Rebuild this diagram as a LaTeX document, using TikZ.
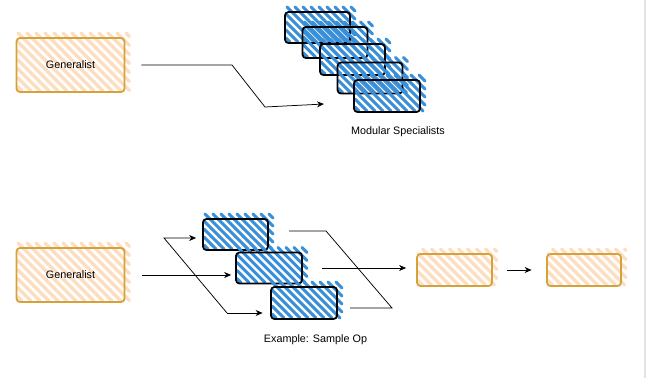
\documentclass[tikz,border=0pt]{standalone}
\usepackage{fontspec}
\setmainfont{Liberation Sans}
\usetikzlibrary{arrows.meta,calc}
\definecolor{orangeH}{HTML}{FDDEC0}
\definecolor{orangeB}{HTML}{D7A13A}
\definecolor{blueH}{HTML}{3A8FD9}
\definecolor{edgeG}{HTML}{E3E3E3}
\tikzset{
  orangebox/.style={draw=orangeB, line width=1.8pt, rounded corners=3.5pt, inner sep=0pt, font=\fontsize{10.8}{13}\selectfont},
  bluebox/.style={draw=black, line width=1.8pt, rounded corners=3.5pt, inner sep=0pt},
  conn/.style={draw=black, line width=0.75pt},
  arr/.style={conn, -{Stealth[length=7pt,width=6pt]}},
  lbl/.style={font=\fontsize{10.8}{13}\selectfont, inner sep=0pt}
}
% hatch: xl, yt, xr, yb, colour, stripe width, horizontal period
\newcommand\hatchrect[7]{%
  \pgfmathsetmacro\hxl{#1}\pgfmathsetmacro\hyt{#2}%
  \pgfmathsetmacro\hxr{#3}\pgfmathsetmacro\hyB{#4}%
  \pgfmathsetmacro\hcA{\hxl-\hyB+#7/2}%
  \pgfmathsetmacro\hcB{\hcA+#7}%
  \pgfmathsetmacro\hcE{\hxr-\hyt}%
  \foreach \hc in {\hcA,\hcB,...,\hcE}{%
    \pgfmathsetmacro\hya{max(\hyt,\hxl-\hc)}%
    \pgfmathsetmacro\hyb{min(\hyB,\hxr-\hc)}%
    \pgfmathparse{\hyb>\hya+0.5 ? 1 : 0}%
    \ifnum\pgfmathresult=1
      \draw[#5, line width=#6pt, line cap=round] ({\hc+\hya},\hya) -- ({\hc+\hyb},\hyb);
    \fi
  }%
}
% name, x, y, w, h, kind, text
\newcommand\skbox[7]{%
  \ifx o#6\relax
    \hatchrect{#2-#4/2+1}{#3-#5/2-5}{#2+#4/2+5}{#3+#5/2-1}{orangeH}{3.2}{9}%
    \node[orangebox, minimum width=#4pt, minimum height=#5pt] (#1) at (#2,#3) {#7};
  \else
    \hatchrect{#2-#4/2+1}{#3-#5/2-5}{#2+#4/2+5}{#3+#5/2-1}{blueH}{3}{8}%
    \node[bluebox, minimum width=#4pt, minimum height=#5pt] (#1) at (#2,#3) {#7};
  \fi
}
\begin{document}
\begin{tikzpicture}[x=1pt,y=-1pt]
\useasboundingbox (0,0) rectangle (648,378);
\draw[edgeG, line width=2pt] (645,0) -- (645,378);

% ---------- top part ----------
\skbox{genTop}{70.5}{65}{108}{54}{o}{Generalist}
\skbox{s1}{317.5}{27.5}{65}{31}{b}{}
\skbox{s2}{335}{42.5}{65}{31}{b}{}
\skbox{s3}{352.5}{59.5}{65}{31}{b}{}
\skbox{s4}{370}{78}{65}{31}{b}{}
\skbox{s5}{387}{96}{66}{32}{b}{}
\node[lbl] (lblTop) at (398,132) {Modular Specialists};

\coordinate (t1) at (232,65);
\coordinate (t2) at (265,107);
\coordinate (t3) at (324,104);
\draw[arr, shorten <=16pt] (genTop.east) -- (t1) -- (t2) -- (t3);

% ---------- bottom part ----------
\skbox{genBot}{70.5}{275}{108}{54}{o}{Generalist}
\skbox{bA}{235.5}{234.5}{65}{31}{b}{}
\skbox{bB}{269}{268}{66}{31}{b}{}
\skbox{bC}{304}{303}{66}{32}{b}{}
\skbox{o1}{454.5}{270}{75}{32}{o}{}
\skbox{o2}{584}{270}{74}{32}{o}{}
\node[lbl] (lblBot) at (315.5,340) {Example: Sample Op};

% fan out
\coordinate (up) at (164,238);
\coordinate (dn) at (227,313);
\draw[arr, shorten <=16.5pt, shorten >=4pt] (genBot.east) -- (genBot.east -| bB.west);
\draw[arr, shorten >=6pt] (dn) -- (up) -- (up -| bA.west);
\draw[arr, shorten >=7.5pt] (dn) -- (dn -| bC.west);

% merge
\coordinate (aout) at (289,231);
\coordinate (r1) at (326,231);
\coordinate (r2) at (392,308);
\coordinate (cout) at (350,308);
\draw[conn] (aout) -- (r1) -- (r2) -- (cout);
\draw[arr, shorten <=19pt, shorten >=10pt] (bB.east) -- (bB.east -| o1.west);
\draw[arr, shorten <=14pt, shorten >=14.5pt] (o1.east) -- (o2.west);
\end{tikzpicture}
\end{document}
